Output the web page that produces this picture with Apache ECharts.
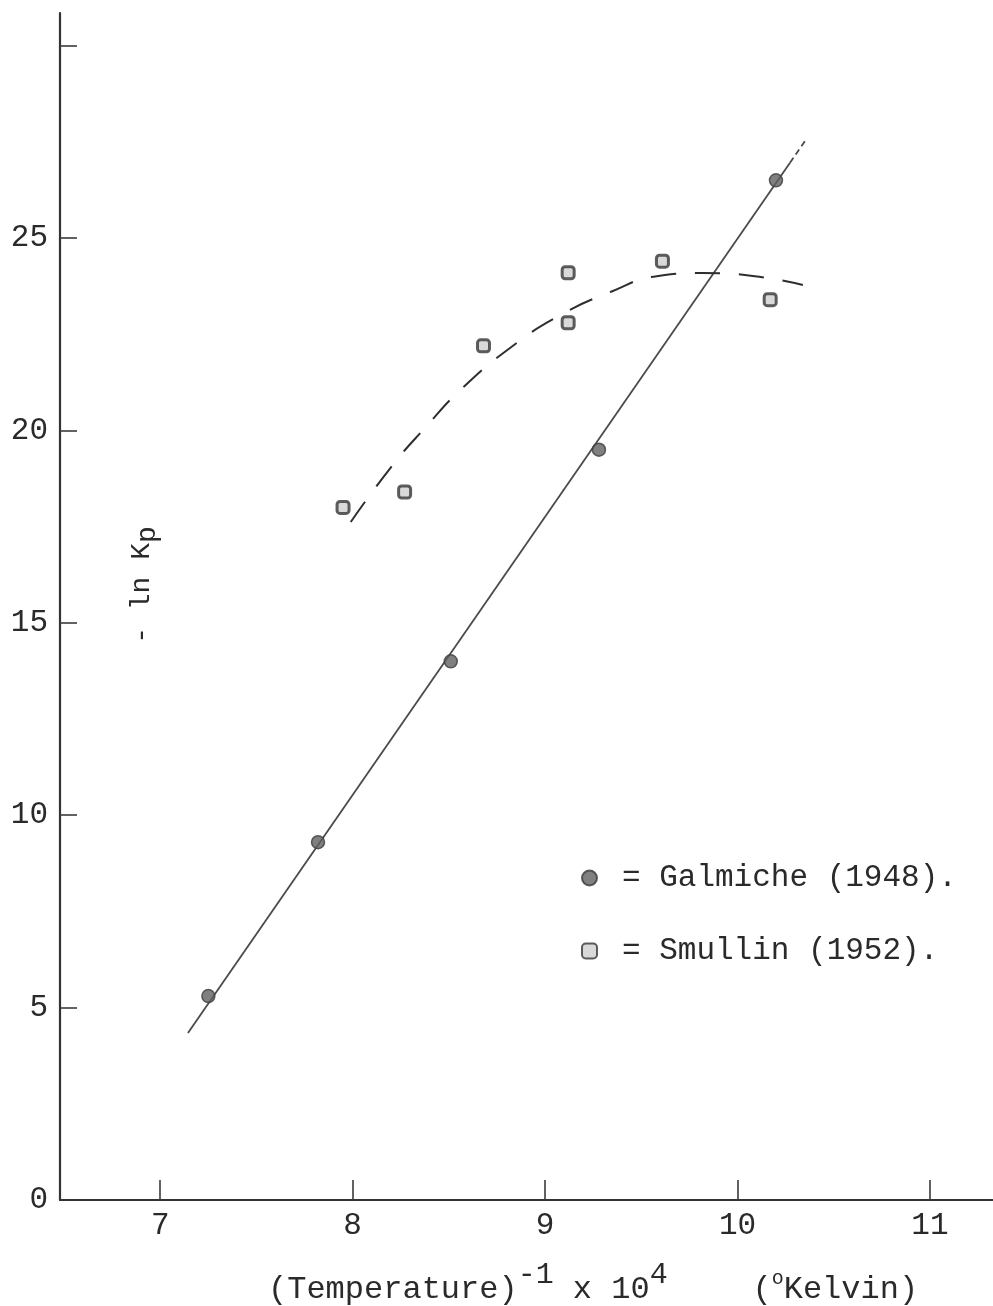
<!DOCTYPE html>
<html>
<head>
<meta charset="utf-8">
<title>-ln Kp vs 1/T</title>
<script src="https://cdn.jsdelivr.net/npm/echarts@6/dist/echarts.min.js"></script>
<style>
  html, body { margin: 0; padding: 0; background: #ffffff; }
  #chart { width: 993px; height: 1306px; }
</style>
</head>
<body>
<div id="chart"></div>
<script>
// Reciprocal temperature (x 10^4) and -ln Kp for the two data sets
const galmicheX = [7.25, 7.82, 8.51, 9.28, 10.20];
const galmicheY = [5.3, 9.3, 14.0, 19.5, 26.5];

const smullinX = [7.95, 8.27, 8.68, 9.12, 9.12, 9.61, 10.17];
const smullinY = [18.0, 18.4, 22.2, 24.1, 22.8, 24.4, 23.4];

// Straight line fitted through the Galmiche points (solid part, then a short dashed run-out)
const fitX = [7.144, 10.273];
const fitY = [4.34, 26.96];
const fitExtX = [10.273, 10.362];
const fitExtY = [26.96, 27.60];

// Hand-drawn dashed trend through the Smullin points
const trendX = [7.99, 8.20, 8.38, 8.57, 8.83, 9.08, 9.34, 9.58, 9.82, 10.09, 10.34];
const trendY = [17.62, 19.05, 20.09, 21.10, 22.19, 23.00, 23.60, 24.01, 24.09, 24.01, 23.78];

// Axis ticks and labels
const xTicks = [7, 8, 9, 10, 11];
const yTicks = [5, 10, 15, 20, 25, 30];
const yLabels = [0, 5, 10, 15, 20, 25];

const seriesNames = ['Galmiche (1948)', 'Smullin (1952)'];

const FONT = '"Liberation Mono", "DejaVu Sans Mono", monospace';
const INK = '#2a2a2a';

const zip = (xs, ys) => xs.map((x, i) => [x, ys[i]]);

const chart = echarts.init(document.getElementById('chart'), null, { renderer: 'canvas' });

chart.setOption({
  animation: false,
  backgroundColor: '#ffffff',
  grid: {
    left: 60, right: 0, top: 13, bottom: 106,
    outerBoundsMode: 'none'
  },
  xAxis: {
    type: 'value',
    min: 6.479,
    max: 11.328,
    splitLine: { show: false },
    axisLine: { show: true, onZero: false, lineStyle: { color: '#333333', width: 2.2 } },
    axisTick: {
      show: true, inside: true, length: 20, customValues: xTicks,
      lineStyle: { color: '#3a3a3a', width: 1.6 }
    },
    axisLabel: {
      customValues: xTicks, margin: 10,
      fontFamily: FONT, fontSize: 31, color: INK
    }
  },
  yAxis: {
    type: 'value',
    min: 0,
    max: 30.85,
    splitLine: { show: false },
    axisLine: { show: true, onZero: false, lineStyle: { color: '#333333', width: 2.2 } },
    axisTick: {
      show: true, inside: true, length: 17, customValues: yTicks,
      lineStyle: { color: '#3a3a3a', width: 1.6 }
    },
    axisLabel: {
      customValues: yLabels, margin: 12,
      fontFamily: FONT, fontSize: 31, color: INK
    }
  },
  legend: {
    data: seriesNames,
    orient: 'vertical',
    left: 576,
    top: 855,
    itemWidth: 15,
    itemHeight: 15,
    itemGap: 37,
    selectedMode: false,
    formatter: name => '= ' + name + '.',
    textStyle: {
      fontFamily: FONT, fontSize: 31, color: INK,
      lineHeight: 36, padding: [0, 0, 0, 20]
    }
  },
  series: [
    {
      name: 'fit',
      type: 'line',
      data: zip(fitX, fitY),
      symbol: 'none',
      lineStyle: { color: '#4a4a4a', width: 1.8 },
      z: 2
    },
    {
      name: 'fit-ext',
      type: 'line',
      data: zip(fitExtX, fitExtY),
      symbol: 'none',
      lineStyle: { color: '#4a4a4a', width: 1.8, type: [6, 4] },
      z: 2
    },
    {
      name: 'trend',
      type: 'line',
      data: zip(trendX, trendY),
      smooth: true,
      symbol: 'none',
      lineStyle: { color: '#2e2e2e', width: 2, type: [25, 19] },
      z: 2
    },
    {
      name: seriesNames[0],
      type: 'scatter',
      data: zip(galmicheX, galmicheY),
      symbol: 'circle',
      symbolSize: 13,
      itemStyle: { color: '#606060', borderColor: '#3c3c3c', borderWidth: 1.5 },
      z: 4
    },
    {
      name: seriesNames[1],
      type: 'scatter',
      data: zip(smullinX, smullinY),
      symbol: 'roundRect',
      symbolSize: 12,
      itemStyle: { color: '#cfcfcf', borderColor: '#363636', borderWidth: 3 },
      z: 4
    }
  ],
  graphic: [
    {
      type: 'text',
      left: 268,
      top: 1260,
      style: {
        text: '{b|(Temperature)}{s|-1}{b| x 10}{s|4}{b|    }{p|(}{o|o}{b|Kelvin)}',
        fill: INK,
        rich: {
          b: { fontFamily: FONT, fontSize: 32, fill: INK },
          s: { fontFamily: FONT, fontSize: 30, fill: INK, padding: [0, 0, 30, 0] },
          p: { fontFamily: FONT, fontSize: 32, fill: INK, padding: [0, 0, 0, 8] },
          o: { fontFamily: FONT, fontSize: 20, fill: INK, padding: [0, 0, 22, 0] }
        }
      }
    },
    {
      type: 'text',
      x: 142,
      y: 585,
      rotation: Math.PI / 2,
      style: {
        text: '{b|- ln K}{p|p}',
        align: 'center',
        verticalAlign: 'middle',
        fill: INK,
        rich: {
          b: { fontFamily: FONT, fontSize: 28, fill: INK },
          p: { fontFamily: FONT, fontSize: 28, fill: INK, padding: [12, 0, 0, 0] }
        }
      }
    }
  ]
});
</script>
</body>
</html>
